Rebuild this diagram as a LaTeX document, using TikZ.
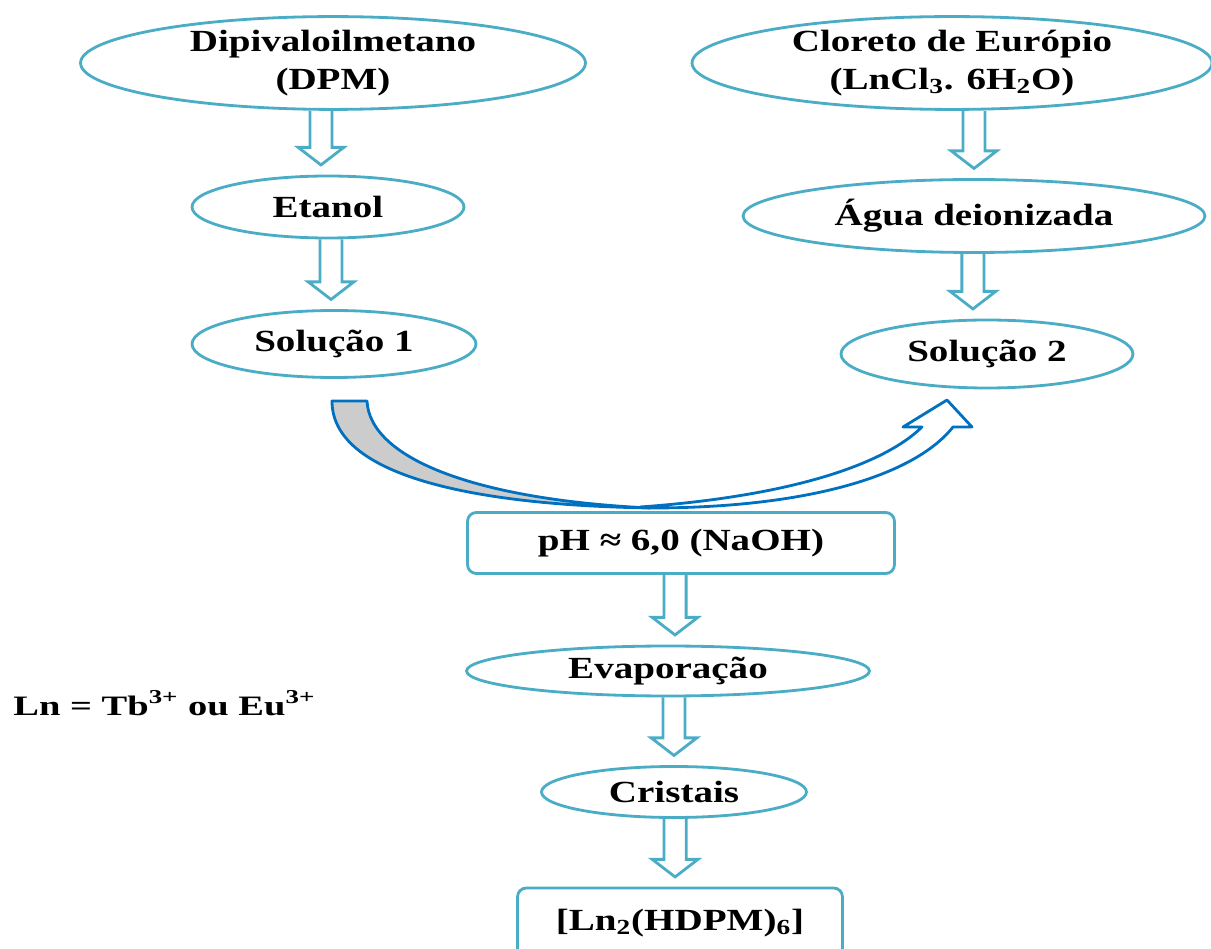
\documentclass[tikz,border=0pt]{standalone}
\usepackage{fontspec}
\setmainfont[FakeStretch=1.27]{Liberation Serif}
\newfontfamily\notefont[FakeStretch=1.37]{Liberation Serif}
\usetikzlibrary{shapes.geometric,calc}

\definecolor{aqua}{RGB}{75,172,198}
\definecolor{deepblue}{RGB}{0,112,192}
\definecolor{shade}{RGB}{204,204,204}

\tikzset{
  base/.style={draw=aqua, line width=1.6pt, inner sep=0pt, align=center,
    font=\bfseries\fontsize{17.5}{21.5}\selectfont},
  oval/.style={base, ellipse},
  panel/.style={base, rectangle, rounded corners=5pt},
  blockarrow/.style={draw=aqua, line width=1.6pt, line join=miter},
  curvearrow/.style={draw=deepblue, line width=1.6pt, line join=round},
}

% hollow down arrow from one node to the next (optional x shift)
\newcommand\blockdown[3][0pt]{%
  \draw[blockarrow] let \p1=(#2.south), \p2=(#3.north) in
    ({\x2+#1-6.3pt},\y1) -- ({\x2+#1-6.3pt},\y2+15.5pt) -- ({\x2+#1-13pt},\y2+15.5pt)
    -- ({\x2+#1},\y2+5.5pt) -- ({\x2+#1+13pt},\y2+15.5pt) -- ({\x2+#1+6.3pt},\y2+15.5pt)
    -- ({\x2+#1+6.3pt},\y1);}

\begin{document}
\begin{tikzpicture}[x=0.02cm, y=-0.02cm]
\useasboundingbox (0,0) rectangle (1211,949);

% left column
\node[oval, minimum width=10.1cm, minimum height=1.76cm] (dpm) at (333,63) {Dipivaloilmetano\\(DPM)};
\node[oval, minimum width=5.44cm, minimum height=1.24cm] (etanol) at (328,207) {Etanol};
\node[oval, minimum width=5.68cm, minimum height=1.34cm] (sol1) at (334,344) {Solução 1};

% right column
\node[oval, minimum width=10.4cm, minimum height=1.64cm] (cloreto) at (952,63) {Cloreto de Európio\\(LnCl\textsubscript{3}. 6H\textsubscript{2}O)};
\node[oval, minimum width=9.24cm, minimum height=1.46cm] (agua) at (974,216) {Água deionizada};
\node[oval, minimum width=5.84cm, minimum height=1.36cm] (sol2) at (987,354) {Solução 2};

% centre column
\node[panel, minimum width=8.54cm, minimum height=1.22cm] (ph) at (681,543) {pH ≈ 6,0 (NaOH)};
\node[oval, minimum width=8.06cm, minimum height=1.0cm] (evap) at (668,671) {Evaporação};
\node[oval, minimum width=5.3cm, minimum height=1.02cm] (cristais) at (674,792) {Cristais};
\node[panel, minimum width=6.5cm, minimum height=1.4cm] (produto) at (680,923) {[Ln\textsubscript{2}(HDPM)\textsubscript{6}]};

\node[anchor=base west, inner sep=0pt, font=\notefont\bfseries\fontsize{16}{19}\selectfont] (lnnote) at (13,715) {Ln = Tb\textsuperscript{3+} ou Eu\textsuperscript{3+}};

% block arrows
\blockdown[-4pt]{dpm}{etanol}
\blockdown[-1.7pt]{etanol}{sol1}
\blockdown{cloreto}{agua}
\blockdown[-8pt]{agua}{sol2}
\blockdown[4pt]{ph}{evap}
\blockdown{evap}{cristais}
\blockdown[-2.8pt]{cristais}{produto}

% curved arrow joining the two solutions
\path[curvearrow, fill=white] (650,508) .. controls (810,508) and (915,475) .. (953,427)
  -- (972,427) -- (947,400) -- (903,427) -- (922,427)
  .. controls (880,468) and (780,497) .. (640,507) -- cycle;
\path[curvearrow, fill=shade] (332,401) .. controls (332,475) and (470,505) .. (650,508)
  .. controls (480,500) and (370,460) .. (367,401) -- cycle;
\end{tikzpicture}
\end{document}
